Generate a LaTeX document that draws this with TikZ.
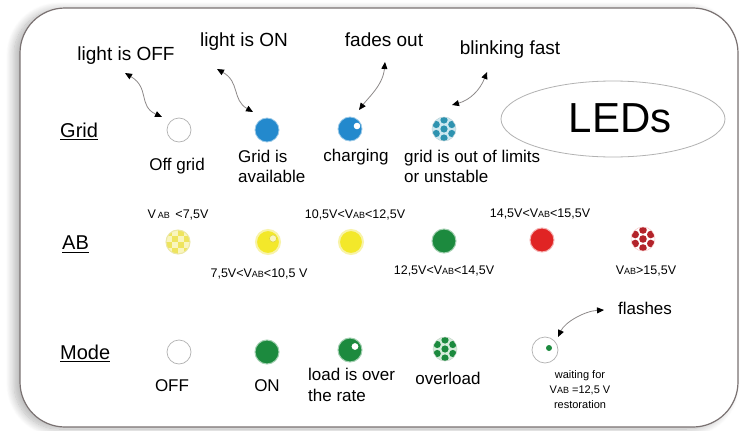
\documentclass[tikz,border=0pt]{standalone}
\usepackage{fontspec}
\setmainfont{Liberation Sans}
\usetikzlibrary{arrows.meta,shadows.blur,shapes.geometric}
\definecolor{frameC}{HTML}{7A7272}
\definecolor{ledBlue}{HTML}{2389CD}
\definecolor{ledBlueLt}{HTML}{CDE8F0}
\definecolor{ledBlueDot}{HTML}{2E93B0}
\definecolor{ledYel}{HTML}{F3E82A}
\definecolor{ledYelHalo}{HTML}{F8F3A8}
\definecolor{ledYelLt}{HTML}{EEE45E}
\definecolor{ledYelChk}{HTML}{F9F5BE}
\definecolor{ledGreen}{HTML}{1C8A3E}
\definecolor{ledGreenLt}{HTML}{D5ECDA}
\definecolor{ledRed}{HTML}{E02424}
\definecolor{ledRedDot}{HTML}{B3232A}
\definecolor{arrC}{HTML}{8E8A8A}
\newcommand\ab{{\fontsize{9}{9}\selectfont AB}}
\newcommand\leddots[3]{%
  \fill[#1] (path picture bounding box.center) circle (#2);
  \foreach \a in {90,30,-30,-90,-150,150}
    \fill[#1] ([shift={(\a:#3)}]path picture bounding box.center) circle (#2);}
\tikzset{
  led/.style={circle, minimum size=24pt, inner sep=0pt},
  ledoff/.style={led, draw=gray!60, fill=white, line width=0.7pt},
  ledblue/.style={led, fill=ledBlue, draw=ledBlue!45, line width=0.8pt},
  ledbluehl/.style={ledblue, path picture={\fill[white] ([xshift=7pt,yshift=3pt]path picture bounding box.center) circle (3.3pt);}},
  ledbluedot/.style={led, fill=ledBlueLt, draw=ledBlueLt!80!gray, line width=0.5pt, path picture={\leddots{ledBlueDot}{3.6pt}{9pt}}},
  ledyel/.style={led, fill=ledYel, draw=ledYelHalo, line width=2pt},
  ledyelhl/.style={ledyel, path picture={\fill[ledYelChk, draw=ledYel!80!gray, line width=0.5pt] ([xshift=5pt,yshift=3.5pt]path picture bounding box.center) circle (3.6pt);}},
  ledyelchk/.style={led, fill=ledYelLt, draw=ledYelHalo!90!gray, line width=1pt, path picture={
     \foreach \i/\j in {-12/-12,0/-12,-12/0,0/0,-6/-6,6/-6,-6/6,6/6}
       \fill[ledYelChk] ([shift={(\i pt,\j pt)}]path picture bounding box.center) rectangle ++(6pt,6pt);}},
  ledgreen/.style={led, fill=ledGreen, draw=ledGreen!40, line width=1pt},
  ledgreenhl/.style={ledgreen, path picture={\fill[white] ([xshift=5pt,yshift=3.5pt]path picture bounding box.center) circle (3.4pt);}},
  ledgreendot/.style={led, fill=ledGreenLt, draw=ledGreenLt!80!gray, line width=0.5pt, path picture={\leddots{ledGreen}{3.6pt}{9pt}}},
  ledred/.style={led, fill=ledRed, draw=ledRed!35, line width=1pt},
  ledreddot/.style={led, fill=white, draw=ledRed!25, line width=0.5pt, path picture={\leddots{ledRedDot}{3.8pt}{9pt}}},
  ledwait/.style={circle, minimum size=26pt, inner sep=0pt, draw=gray!60, fill=white, line width=0.7pt},
  toplbl/.style={font=\fontsize{19}{22}\selectfont, inner sep=0pt},
  lbl/.style={font=\fontsize{17}{20}\selectfont, inner sep=0pt},
  rowlbl/.style={font=\fontsize{20}{22}\selectfont, inner sep=0pt, anchor=west},
  vlbl/.style={font=\fontsize{12.5}{14}\selectfont, inner sep=0pt},
  wlbl/.style={font=\fontsize{11}{15}\selectfont, inner sep=0pt, align=center},
  uline/.style={line width=1.4pt},
  callout/.style={draw=arrC, line width=0.8pt, {Triangle[length=7pt,width=6pt,color=black]}-{Triangle[length=7pt,width=6pt,color=black]}},
}
\begin{document}
\begin{tikzpicture}[x=1pt,y=-1pt]
\useasboundingbox (0,0) rectangle (742,431);
% frame
\draw[frameC, line width=1.2pt, fill=white, rounded corners=45pt,
  blur shadow={shadow xshift=-6pt, shadow yshift=-2pt, shadow blur radius=8pt, shadow blur steps=14, shadow opacity=30}]
  (20,8) rectangle (738,427);
% LEDs title
\node[draw=gray!60, line width=0.8pt, ellipse, minimum width=224pt, minimum height=76pt, inner sep=0pt] (ell) at (613,119) {};
\node[font=\fontsize{42}{44}\selectfont, inner sep=0pt] (title) at (620,118) {LEDs};
% row labels
\node[rowlbl] (grid) at (60,130) {Grid};
\node[rowlbl] (ab) at (62,243) {AB};
\node[rowlbl] (mode) at (60,352) {Mode};
\draw[uline] ([yshift=-2.5pt]grid.base west) -- ([yshift=-2.5pt]grid.base east);
\draw[uline] ([yshift=-2.5pt]ab.base west) -- ([yshift=-2.5pt]ab.base east);
\draw[uline] ([yshift=-2.5pt]mode.base west) -- ([yshift=-2.5pt]mode.base east);
% top labels
\node[toplbl] (tOff) at (126,56) {light is OFF};
\node[toplbl] (tOn) at (244,42) {light is ON};
\node[toplbl] (tFade) at (384,40) {fades out};
\node[toplbl] (tBlink) at (510,50) {blinking fast};
% Grid row
\node[ledoff] (g1) at (179,130) {};
\node[ledblue] (g2) at (267,130) {};
\node[ledbluehl] (g3) at (350,129) {};
\node[ledbluedot] (g4) at (444,129) {};
\node[lbl] (lg1) at (177,166) {Off grid};
\node[lbl, align=left, anchor=north west] (lg2) at (238,150) {Grid is\\available};
\node[lbl] (lg3) at (356,157) {charging};
\node[lbl, align=left, anchor=north west] (lg4) at (404,150) {grid is out of limits\\or unstable};
% callouts
\coordinate (c1a) at (125,73); \coordinate (c1b) at (162,117);
\coordinate (c2a) at (217,69); \coordinate (c2b) at (253,112);
\coordinate (c3a) at (385,62); \coordinate (c3b) at (359,110);
\coordinate (c4a) at (487,72); \coordinate (c4b) at (452,105);
\coordinate (c5a) at (604,310); \coordinate (c5b) at (558,337);
\draw[callout] (c1a) .. controls (150,88) and (138,106) .. (c1b);
\draw[callout] (c2a) .. controls (240,82) and (232,100) .. (c2b);
\draw[callout] (c3a) .. controls (383,85) and (368,98) .. (c3b);
\draw[callout] (c4a) .. controls (480,90) and (470,100) .. (c4b);
\draw[callout] (c5a) .. controls (585,311) and (565,322) .. (c5b);
% AB row
\node[ledyelchk] (a1) at (178,242) {};
\node[ledyelhl] (a2) at (268,242) {};
\node[ledyel] (a3) at (351,242) {};
\node[ledgreen] (a4) at (444,241) {};
\node[ledred] (a5) at (542,240) {};
\node[ledreddot] (a6) at (643,239) {};
\node[vlbl] (la1) at (178,215) {V\,\ab\ \,<7,5V};
\node[vlbl] (la3) at (355,215) {10,5V<V\ab<12,5V};
\node[vlbl] (la5) at (540,214) {14,5V<V\ab<15,5V};
\node[vlbl] (la2) at (259,274) {7,5V<V\ab<10,5 V};
\node[vlbl] (la4) at (444,271) {12,5V<V\ab<14,5V};
\node[vlbl] (la6) at (646,271) {V\ab >15,5V};
% Mode row
\node[ledoff] (m1) at (179,352) {};
\node[ledgreen] (m2) at (267,352) {};
\node[ledgreenhl] (m3) at (350,350) {};
\node[ledgreendot] (m4) at (445,349) {};
\node[ledwait] (m5) at (545,350) {};
\fill[ledGreen] ([xshift=4pt,yshift=2pt]m5.center) circle (3pt);
\node[lbl] (lm1) at (172,386) {OFF};
\node[lbl] (lm2) at (267,386) {ON};
\node[lbl, align=left, anchor=north west, font=\fontsize{17}{21}\selectfont] (lm3) at (308,368) {load is over\\the rate};
\node[lbl] (lm4) at (448,378) {overload};
\node[wlbl] (lm5) at (580,390) {waiting for\\V\ab\ =12,5 V\\restoration};
\node[lbl] (tFlash) at (645,308) {flashes};
\end{tikzpicture}
\end{document}
